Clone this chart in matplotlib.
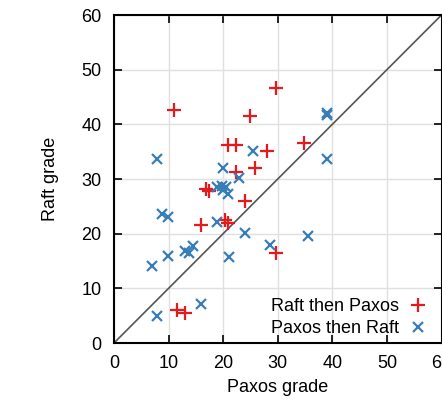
import matplotlib
matplotlib.use("Agg")
import matplotlib.pyplot as plt

# Raft then Paxos (red +)
raft_first_paxos = [11.0, 29.6, 25.0, 34.9, 20.9, 22.3, 28.0, 25.9, 22.4,
                    16.9, 17.4, 24.0, 15.9, 20.4, 20.9, 29.6, 11.5, 13.0]
raft_first_raft = [42.6, 46.6, 41.6, 36.6, 36.3, 36.2, 35.1, 32.1, 31.2,
                   28.1, 27.8, 26.0, 21.6, 22.5, 21.9, 16.5, 6.0, 5.4]

# Paxos then Raft (blue x)
paxos_first_paxos = [39.0, 39.0, 39.0, 7.9, 25.4, 20.0, 22.9, 18.9, 19.8,
                     20.6, 20.0, 20.9, 8.8, 9.9, 18.9, 24.0, 28.5, 35.5,
                     9.9, 6.9, 13.0, 13.8, 14.5, 21.0, 15.9, 7.9]
paxos_first_raft = [42.1, 41.7, 33.6, 33.6, 35.1, 32.1, 30.1, 28.6, 28.7,
                    28.5, 28.0, 27.2, 23.6, 23.1, 22.1, 20.1, 17.9, 19.6,
                    16.0, 14.1, 16.8, 16.5, 17.7, 15.8, 7.1, 5.0]

ticks = [0, 10, 20, 30, 40, 50, 60]

plt.rcParams['font.family'] = ['Liberation Sans', 'DejaVu Sans']

fig = plt.figure(figsize=(4.42, 4.01), dpi=100)
ax = fig.add_axes([114 / 442, 58 / 401, 327.5 / 442, 328 / 401])

ax.axline((0, 0), slope=1, color='#555555', lw=1.2, zorder=2)
ax.plot(raft_first_paxos, raft_first_raft, ls='none', marker='+', ms=10,
        mew=1.6, color='#e41a1c', label='Raft then Paxos', zorder=3)
ax.plot(paxos_first_paxos, paxos_first_raft, ls='none', marker='x', ms=7,
        mew=1.6, color='#377eb8', label='Paxos then Raft', zorder=3)

ax.set_xlim(0, 60)
ax.set_ylim(0, 60)
ax.set_xticks(ticks)
ax.set_yticks(ticks)
ax.grid(True, color='#e0e0e0', lw=1)
ax.set_axisbelow(True)
ax.tick_params(direction='in', length=6, width=1.2, top=True, right=True,
               labelsize=13, pad=9)
for s in ax.spines.values():
    s.set_linewidth(1.5)

ax.set_xlabel('Paxos grade', fontsize=13, labelpad=5)
ax.set_ylabel('Raft grade', fontsize=13, labelpad=16)

ax.legend(loc='lower right', markerfirst=False, frameon=False, fontsize=13,
          handlelength=1.2, handletextpad=0.4, labelspacing=0.3,
          borderaxespad=0.0, bbox_to_anchor=(0.982, -0.005))

fig.savefig('out.png', dpi=100)
